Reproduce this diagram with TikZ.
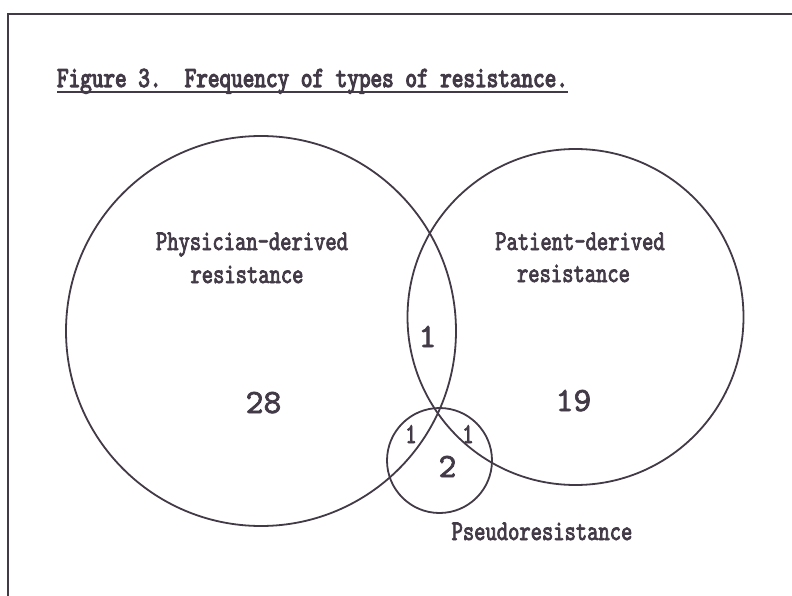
\documentclass[tikz,border=0pt]{standalone}
\usepackage{fontspec}
\newfontfamily\condfont{lmmono10-regular.otf}[FakeStretch=0.755, FakeBold=2.6]
\newfontfamily\titlefont{lmmono10-regular.otf}[FakeStretch=0.755, FakeBold=3.6]
\newfontfamily\numfont{lmmono10-regular.otf}[FakeBold=2]
\definecolor{ink}{RGB}{66,58,70}
\begin{document}
\begin{tikzpicture}[x=1pt,y=-1pt,
  every node/.style={inner sep=0pt, outer sep=0pt, text=ink},
  ring/.style={circle, draw=ink, line width=1.8pt, inner sep=0pt},
  lbl/.style={font=\condfont\fontsize{28.5}{28}\selectfont, anchor=base},
  ttl/.style={font=\titlefont\fontsize{29.3}{29}\selectfont, anchor=base west},
  cnt/.style={font=\numfont\fontsize{34}{34}\selectfont, anchor=base},
  frameline/.style={draw=ink, line width=1.8pt}]
\useasboundingbox (0,0) rectangle (792,596);
\fill[white] (0,0) rectangle (792,596);
% frame
\coordinate (fb) at (8,596);
\coordinate (ftl) at (8,14);
\coordinate (ftr) at (792,14);
\draw[frameline] (fb) -- (ftl) -- (ftr);
% title
\node[ttl] (title) at (57,87) {Figure 3.\ \ Frequency of types of resistance.};
\draw[draw=ink, line width=1.5pt] ([yshift=-5pt]title.base west) -- ([yshift=-5pt]title.base east);
% circles
\node[ring, minimum size=390pt] (phys) at (261,331) {};
\node[ring, minimum size=336pt] (pat) at (575.5,317) {};
\node[ring, minimum size=105pt] (pseudo) at (439.5,460.5) {};
% labels
\node[lbl] (physA) at (252,250) {Physician-derived};
\node[lbl] (physB) at (247,283) {resistance};
\node[lbl] (patA) at (580,250) {Patient-derived};
\node[lbl] (patB) at (573.5,282) {resistance};
\node[lbl] (pseudoL) at (542,540) {Pseudoresistance};
% counts
\node[cnt] (n28) at (263.5,413) {28};
\node[cnt] (n19) at (573.5,411) {19};
\node[cnt] (n1) at (427.5,347) {1};
\node[cnt] (n2) at (447.5,477) {2};
\node[lbl] (n1a) at (411,443) {1};
\node[lbl] (n1b) at (468,443) {1};
\end{tikzpicture}
\end{document}
